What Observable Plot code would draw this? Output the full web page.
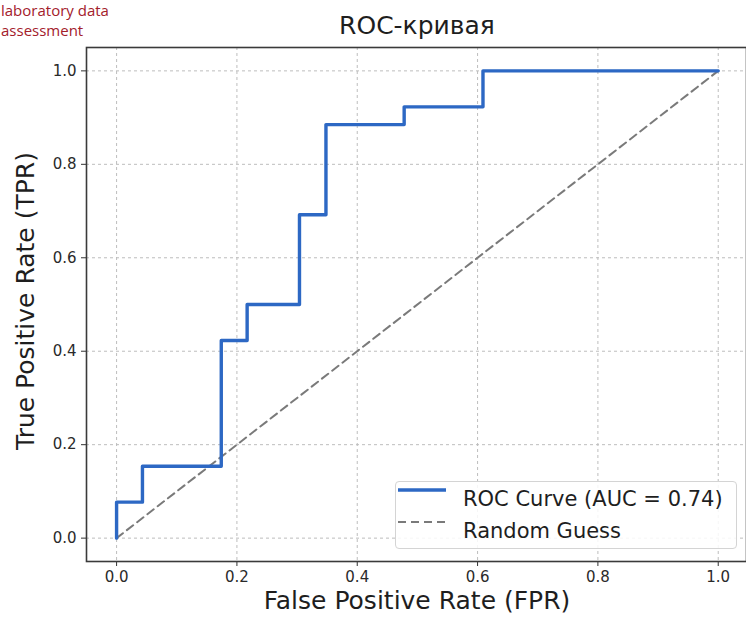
<!DOCTYPE html>
<html>
<head>
<meta charset="utf-8">
<script src="https://cdn.jsdelivr.net/npm/d3@7"></script>
<script src="https://cdn.jsdelivr.net/npm/@observablehq/plot@0.6"></script>
<style>
  html, body { margin: 0; padding: 0; background: #fff; }
  #wrap { position: relative; width: 746px; height: 619px; overflow: hidden; font-family: "DejaVu Sans", sans-serif; }
  #wrap svg { position: absolute; left: 0; top: 0; }
  .ov { position: absolute; white-space: nowrap; }
  .brand { left: 1px; color: #a3202b; font-family: "Open Sans", sans-serif; font-size: 15px; line-height: 18px; height: 18px; }
  #brand1 { top: 1px; }
  #brand2 { top: 21px; }
  #title { left: 0; width: 834px; top: 11px; text-align: center; font-size: 25px; color: #1e1e1e; }
  #xlab { left: 0; width: 834px; top: 586px; text-align: center; font-size: 25px; color: #1e1e1e; }
  #ylab { left: 25px; top: 301px; font-size: 25px; color: #1e1e1e; transform: translate(-50%, -50%) rotate(-90deg); }
  #legend { left: 395px; top: 481px; width: 342px; height: 68px; box-sizing: border-box; border: 1px solid #d4d4d4; border-radius: 4px; background: rgba(255,255,255,0.85); }
  .li { position: absolute; left: 0; height: 30px; font-size: 21px; color: #1e1e1e; }
  .li svg { position: absolute; left: 6px; top: 11px; }
  .li span { position: absolute; left: 67px; top: 2px; }
</style>
</head>
<body>
<div id="wrap">
  <div class="ov brand" id="brand1">laboratory data</div>
  <div class="ov brand" id="brand2">assessment</div>
  <div class="ov" id="title">ROC-кривая</div>
  <div class="ov" id="xlab">False Positive Rate (FPR)</div>
  <div class="ov" id="ylab">True Positive Rate (TPR)</div>
</div>
<script>
// ROC curve vertices (as returned by roc_curve)
const fpr = [0, 0, 0.043, 0.174, 0.217, 0.304, 0.348, 0.478, 0.609, 1.0];
const tpr = [0, 0.077, 0.154, 0.423, 0.5, 0.692, 0.885, 0.923, 1.0, 1.0];
const guessX = [0, 1];
const guessY = [0, 1];
const ticks = [0, 0.2, 0.4, 0.6, 0.8, 1.0];
const legendLabels = ["ROC Curve (AUC = 0.74)", "Random Guess"];

const blue = "#2d68c4";
const grey = "#7a7a7a";

const roc = fpr.map((x, i) => ({x, y: tpr[i]}));
const guess = guessX.map((x, i) => ({x, y: guessY[i]}));

const chart = Plot.plot({
  width: 746,
  height: 619,
  marginLeft: 86,
  marginRight: 0,
  marginTop: 47,
  marginBottom: 58,
  style: {fontFamily: "DejaVu Sans, sans-serif", fontSize: "15px", color: "#2a2a2a", background: "transparent"},
  x: {domain: [-0.05, 1.047]},
  y: {domain: [-0.05, 1.05]},
  marks: [
    Plot.gridX(ticks, {stroke: "#bdbdbd", strokeOpacity: 1, strokeDasharray: "3,3", strokeWidth: 1}),
    Plot.gridY(ticks, {stroke: "#bdbdbd", strokeOpacity: 1, strokeDasharray: "3,3", strokeWidth: 1}),
    Plot.line(guess, {x: "x", y: "y", stroke: grey, strokeWidth: 2, strokeDasharray: "8,5"}),
    Plot.line(roc, {x: "x", y: "y", stroke: blue, strokeWidth: 3.4, curve: "step-after"}),
    Plot.axisX(ticks, {tickFormat: d3.format(".1f"), tickSize: 5, tickPadding: 5, label: null, stroke: "#333", fill: "#2a2a2a", fontWeight: 500}),
    Plot.axisY(ticks, {tickFormat: d3.format(".1f"), tickSize: 5, tickPadding: 5, label: null, stroke: "#333", fill: "#2a2a2a", fontWeight: 500}),
    Plot.frame({stroke: "#3a3a3a", strokeWidth: 1.6})
  ]
});

const wrap = document.getElementById("wrap");
wrap.insertBefore(chart, wrap.firstChild);

// legend
const leg = document.createElement("div");
leg.className = "ov";
leg.id = "legend";
const styles = [{stroke: blue, dash: null, w: 3.4}, {stroke: grey, dash: "8,5", w: 2}];
legendLabels.forEach((lab, i) => {
  const row = document.createElement("div");
  row.className = "li";
  row.style.top = (3 + i * 32) + "px";
  const s = styles[i];
  row.innerHTML = `<svg width="50" height="10"><line x1="2" x2="50" y1="5" y2="5" stroke="${s.stroke}" stroke-width="${s.w}" ${s.dash ? `stroke-dasharray="${s.dash}"` : ""}/></svg><span>${lab}</span>`;
  leg.appendChild(row);
});
wrap.appendChild(leg);
</script>
</body>
</html>
